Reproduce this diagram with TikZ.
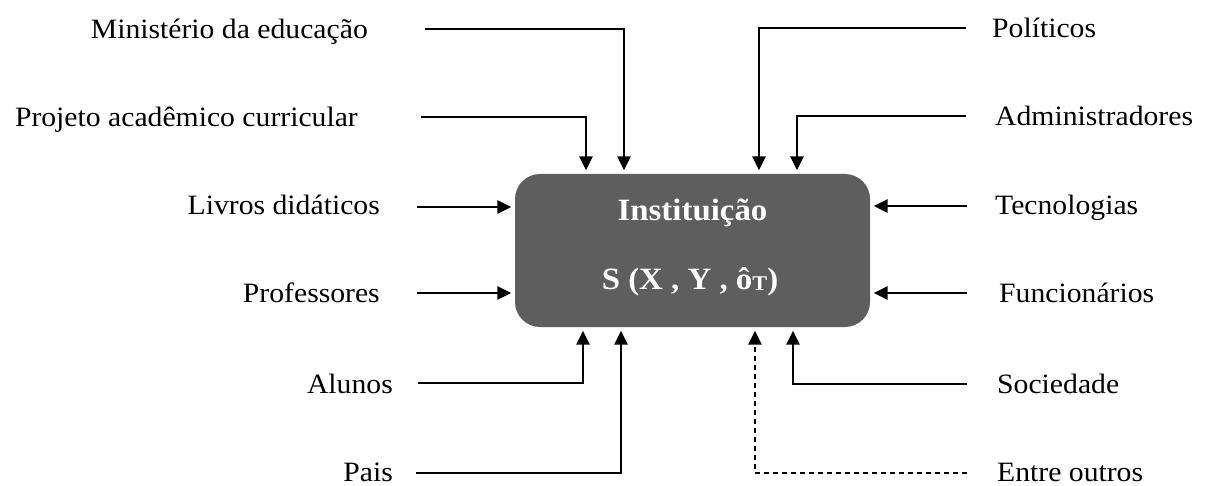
\documentclass[tikz,border=0pt]{standalone}
\usepackage{fontspec}
\setmainfont{Liberation Serif}[FakeStretch=1.06]
\usetikzlibrary{arrows.meta}
\definecolor{boxgray}{RGB}{94,94,94}
\begin{document}
\begin{tikzpicture}[x=1pt,y=-1pt,
  lab/.style={inner sep=0pt,font=\fontsize{28}{28}\selectfont},
  llab/.style={lab,anchor=base east},
  rlab/.style={lab,anchor=base west},
  feed/.style={line width=2.6pt,-{Triangle[width=13pt,length=14pt]},shorten >=3.5pt},
  feeddash/.style={feed,dash pattern=on 5pt off 4pt},
  core/.style={draw=none,fill=boxgray,rounded corners=25pt,minimum width=355pt,minimum height=153pt,inner sep=0pt},
  coretext/.style={inner sep=0pt,anchor=base,text=white,font=\fontsize{31}{31}\selectfont\bfseries}]
\useasboundingbox (0,0) rectangle (1210,486);

% central institution box
\node[core] (box) at (692.5,250.5) {};
\node[coretext] (t1) at (692.5,221) {Instituição};
\node[coretext] (t2) at (690,290) {S (X , Y , ô\raisebox{-1pt}{\fontsize{21}{21}\selectfont T})};

% labels on the left
\node[llab] (min) at (368,39) {Ministério da educação};
\node[llab] (pro) at (358,127) {Projeto acadêmico curricular};
\node[llab] (liv) at (380,215) {Livros didáticos};
\node[llab] (prf) at (380,303) {Professores};
\node[llab] (alu) at (393,393) {Alunos};
\node[llab] (pai) at (393,481) {Pais};

% labels on the right
\node[rlab] (pol) at (992,38) {Políticos};
\node[rlab] (adm) at (995,126) {Administradores};
\node[rlab] (tec) at (995,215) {Tecnologias};
\node[rlab] (fun) at (999,303) {Funcionários};
\node[rlab] (soc) at (997,393) {Sociedade};
\node[rlab] (ent) at (997,481) {Entre outros};

% start points of the connectors
\coordinate (sMin) at (425,29);
\coordinate (sPro) at (421,117);
\coordinate (sLiv) at (417,207);
\coordinate (sPrf) at (417,293);
\coordinate (sAlu) at (418,383);
\coordinate (sPai) at (416,473);
\coordinate (sPol) at (966,28);
\coordinate (sAdm) at (966,116);
\coordinate (sTec) at (967,206);
\coordinate (sFun) at (967,293);
\coordinate (sSoc) at (967,384);
\coordinate (sEnt) at (967,473);

% columns where the connectors turn toward the box
\coordinate (cPro) at (586,0);
\coordinate (cMin) at (624,0);
\coordinate (cPol) at (759,0);
\coordinate (cAdm) at (797,0);
\coordinate (cAlu) at (583,0);
\coordinate (cPai) at (621,0);
\coordinate (cEnt) at (755,0);
\coordinate (cSoc) at (793,0);

% connectors from the top
\draw[feed] (sMin) -| (cMin |- box.north);
\draw[feed] (sPro) -| (cPro |- box.north);
\draw[feed] (sPol) -| (cPol |- box.north);
\draw[feed] (sAdm) -| (cAdm |- box.north);

% connectors from the sides
\draw[feed] (sLiv) -- (box.west |- sLiv);
\draw[feed] (sPrf) -- (box.west |- sPrf);
\draw[feed] (sTec) -- (box.east |- sTec);
\draw[feed] (sFun) -- (box.east |- sFun);

% connectors from the bottom
\draw[feed] (sAlu) -| (cAlu |- box.south);
\draw[feed] (sPai) -| (cPai |- box.south);
\draw[feed] (sSoc) -| (cSoc |- box.south);
\draw[feeddash] (sEnt) -| (cEnt |- box.south);
\end{tikzpicture}
\end{document}
